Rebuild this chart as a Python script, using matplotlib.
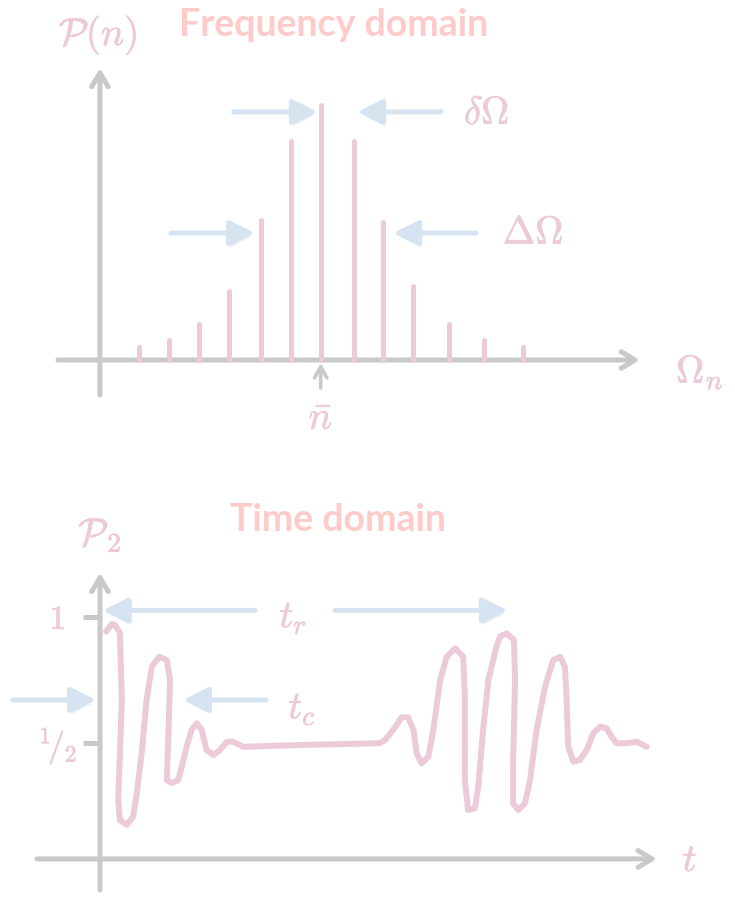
import matplotlib.pyplot as plt
import matplotlib.patheffects as pe

PINK = "#EDCAD9"
GRAY = "#C9C9C9"
BLUE = "#D6E3F0"
TITLE = "#FFCACA"

# mode frequencies (relative to the central mode) and their weights P(n)
omega_n = [-6.05, -5.06, -4.06, -3.05, -1.99, -1.0, 0.0, 1.12, 2.07, 3.07, 4.27, 5.45, 6.73]
p_n = [0.05, 0.08, 0.14, 0.27, 0.55, 0.86, 1.0, 0.86, 0.54, 0.29, 0.14, 0.08, 0.05]

# P_2(t), time in units of the revival time t_r
t = [0.015, 0.029, 0.037, 0.049, 0.054, 0.045, 0.049, 0.066, 0.082, 0.091, 0.103, 0.115,
     0.128, 0.146, 0.165, 0.173, 0.169, 0.165, 0.177, 0.193, 0.202, 0.214, 0.226, 0.239,
     0.251, 0.263, 0.280, 0.296, 0.313, 0.329, 0.354, 0.494, 0.691, 0.704, 0.724, 0.745,
     0.761, 0.774, 0.782, 0.794, 0.811, 0.823, 0.840, 0.856, 0.877, 0.897, 0.901, 0.901,
     0.909, 0.926, 0.934, 0.946, 0.959, 0.979, 0.988, 1.004, 1.022, 1.025, 1.020, 1.020,
     1.033, 1.049, 1.062, 1.078, 1.099, 1.119, 1.136, 1.148, 1.152, 1.156, 1.169, 1.185,
     1.202, 1.218, 1.235, 1.251, 1.263, 1.276, 1.300, 1.325, 1.350]
p2 = [0.942, 0.972, 0.968, 0.937, 0.671, 0.274, 0.194, 0.175, 0.208, 0.302, 0.460, 0.671,
      0.803, 0.842, 0.829, 0.750, 0.540, 0.353, 0.341, 0.353, 0.406, 0.485, 0.552, 0.578,
      0.552, 0.472, 0.452, 0.472, 0.505, 0.505, 0.485, 0.492, 0.499, 0.512, 0.552, 0.602,
      0.602, 0.552, 0.459, 0.419, 0.446, 0.552, 0.750, 0.842, 0.876, 0.842, 0.684, 0.353,
      0.234, 0.241, 0.327, 0.552, 0.750, 0.882, 0.922, 0.935, 0.909, 0.750, 0.419, 0.260,
      0.234, 0.260, 0.353, 0.552, 0.723, 0.829, 0.842, 0.802, 0.684, 0.485, 0.426, 0.433,
      0.472, 0.538, 0.565, 0.558, 0.525, 0.499, 0.499, 0.505, 0.485]
t_c = 0.2
t_r = 1.0
p2_ticks = [1.0, 0.5]
p2_tick_labels = ["$1$", r"$^{1}\!/_{2}$"]

plt.rcParams["mathtext.fontset"] = "cm"

fig = plt.figure(figsize=(7.35, 9), dpi=100)
ax1 = fig.add_axes([0, 0, 1, 1])
ax2 = fig.add_axes([0, 0, 1, 1])
ax1.set_xlim(-10.69, 13.81)
ax1.set_ylim(-2.118, 1.412)
ax2.set_xlim(-0.2469, 1.568)
ax2.set_ylim(-0.123, 3.448)
for ax in (ax1, ax2):
    ax.axis("off")

# slightly thicker strokes so the math labels look penned
pen = [pe.withStroke(linewidth=0.5, foreground=PINK)]


def label(ax, x, y, s, size=28):
    ax.text(x, y, s, color=PINK, fontsize=size, ha="center", va="center",
            path_effects=pen)


def arrow(ax, start, end, color, lw, style, shadow=False, z=2):
    ann = ax.annotate("", xy=end, xytext=start, zorder=z,
                      arrowprops=dict(arrowstyle=style, color=color, lw=lw,
                                      capstyle="round", joinstyle="round",
                                      shrinkA=0, shrinkB=0, mutation_scale=10))
    if shadow:
        ann.arrow_patch.set_path_effects([
            pe.SimplePatchShadow(offset=(1, -3), shadow_rgbFace="#7a8a9a", alpha=0.12),
            pe.Normal()])
    return ann


axis_style = "->,head_length=1.0,head_width=0.6"
blue_style = "-|>,head_length=1.5,head_width=0.75"

# frequency domain
arrow(ax1, (-8.76, 0), (10.64, 0), GRAY, 3.6, axis_style, z=1)
arrow(ax1, (-7.36, -0.137), (-7.36, 1.145), GRAY, 3.6, axis_style, z=1)
lines = ax1.vlines(omega_n, 0, p_n, color=PINK, lw=3.6, zorder=3)
lines.set_capstyle("round")
arrow(ax1, (0, -0.11), (0, -0.012), GRAY, 2.6, "->,head_length=0.8,head_width=0.45", z=1)

arrow(ax1, (omega_n[6] - 2.9, 0.973), (omega_n[6] - 0.1, 0.973), BLUE, 3.6, blue_style, True)
arrow(ax1, (omega_n[7] + 2.9, 0.973), (omega_n[7] + 0.1, 0.973), BLUE, 3.6, blue_style, True)
arrow(ax1, (omega_n[4] - 3.0, 0.498), (omega_n[4] - 0.2, 0.498), BLUE, 3.6, blue_style, True)
arrow(ax1, (omega_n[8] + 3.1, 0.498), (omega_n[8] + 0.35, 0.498), BLUE, 3.6, blue_style, True)

ax1.text(0.44, 1.314, "Frequency domain", color=TITLE, fontsize=27, fontweight="bold",
         family="Lato", ha="center", va="center")
label(ax1, -7.42, 1.275, r"$\mathcal{P}(n)$")
label(ax1, 5.53, 0.969, r"$\delta\Omega$")
label(ax1, 7.08, 0.50, r"$\Delta\Omega$")
label(ax1, 12.64, -0.047, r"$\Omega_n$")
label(ax1, 0.0, -0.227, r"$\bar{n}$")

# time domain
arrow(ax2, (-0.156, 0.040), (1.375, 0.040), GRAY, 3.6, axis_style, z=1)
arrow(ax2, (0, -0.083), (0, 1.175), GRAY, 3.6, axis_style, z=1)
ax2.hlines(p2_ticks, -0.042, 0, color=GRAY, lw=3.6, zorder=1)
for val, lab in zip(p2_ticks, p2_tick_labels):
    label(ax2, -0.105, val - 0.01, lab, size=24)

curve, = ax2.plot(t, p2, color=PINK, lw=4.3, zorder=3)
curve.set_solid_capstyle("round")
curve.set_solid_joinstyle("round")

arrow(ax2, (0.383, 1.026), (0.007, 1.026), BLUE, 3.6, blue_style, True)
arrow(ax2, (0.580, 1.026), (t_r + 0.007, 1.026), BLUE, 3.6, blue_style, True)
arrow(ax2, (-0.215, 0.671), (-0.010, 0.671), BLUE, 3.6, blue_style, True)
arrow(ax2, (t_c + 0.21, 0.671), (t_c + 0.005, 0.671), BLUE, 3.6, blue_style, True)

ax2.text(0.588, 1.385, "Time domain", color=TITLE, fontsize=27, fontweight="bold",
         family="Lato", ha="center", va="center")
label(ax2, 0.0, 1.325, r"$\mathcal{P}_2$")
label(ax2, 0.477, 1.0, r"$t_r$")
label(ax2, 0.499, 0.639, r"$t_c$")
label(ax2, 1.457, 0.036, r"$t$")

fig.savefig("out.png", dpi=100)
